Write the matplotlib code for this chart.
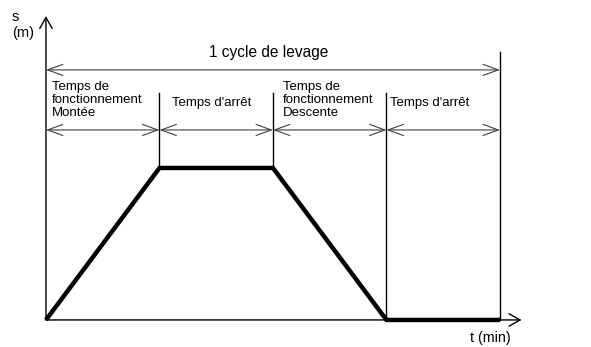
import matplotlib
matplotlib.use("Agg")
import matplotlib.pyplot as plt

plt.rcParams['font.family'] = ['Liberation Sans', 'DejaVu Sans']

# Data: breakpoints of the hoisting cycle (time units) and position
t_points = [0, 1, 2, 3, 4]
s_points = [0, 1, 1, 0, 0]
phase_labels = ["Temps de\nfonctionnement\nMontée", "Temps d'arrêt",
                "Temps de\nfonctionnement\nDescente", "Temps d'arrêt"]
cycle_label = "1 cycle de levage"
x_label = "t (min)"
y_label = "s\n(m)"

fig = plt.figure(figsize=(5.91, 3.47), dpi=100)
ax = fig.add_axes([0, 0, 1, 1])
ax.set_xlim(-0.405, 4.802)
ax.set_ylim(-0.178, 2.105)
ax.axis('off')

thin = '#404040'
axis_arrow = '->,head_length=0.8,head_width=0.45'
dim_arrow = '<->,head_length=1.1,head_width=0.4'
# axes with arrows
ax.annotate('', xy=(0, 2.0), xytext=(0, 0),
            arrowprops=dict(arrowstyle=axis_arrow, color='black', lw=1.0, shrinkA=0, shrinkB=0))
ax.annotate('', xy=(4.19, 0), xytext=(0, 0),
            arrowprops=dict(arrowstyle=axis_arrow, color='black', lw=1.0, shrinkA=0, shrinkB=0))

# vertical boundary lines
ax.plot([t_points[1]] * 2, [s_points[1], 1.49], color='black', lw=1.0)
ax.plot([t_points[2]] * 2, [s_points[2], 1.49], color='black', lw=1.0)
ax.plot([t_points[3]] * 2, [0, 1.49], color='black', lw=1.0)
ax.plot([t_points[4]] * 2, [0, 1.76], color='black', lw=1.0)

# cycle arrow
ax.annotate('', xy=(t_points[0], 1.645), xytext=(t_points[-1], 1.645),
            arrowprops=dict(arrowstyle=dim_arrow, color=thin, lw=0.8, shrinkA=0, shrinkB=0))
ax.text((t_points[0] + t_points[-1]) / 2 - 0.04, 1.76, cycle_label, ha='center', va='center', fontsize=11.2)

# phase arrows
for i in range(4):
    ax.annotate('', xy=(t_points[i], 1.25), xytext=(t_points[i + 1], 1.25),
                arrowprops=dict(arrowstyle=dim_arrow, color=thin, lw=0.8, shrinkA=0, shrinkB=0))

label_pos = [(0.055, 1.575, 'top'), (1.11, 1.428, 'center'), (2.09, 1.575, 'top'), (3.03, 1.428, 'center')]
for (x, y, va), lab in zip(label_pos, phase_labels):
    ax.text(x, y, lab, ha='left', va=va, fontsize=9.5, linespacing=1.12)

# curve
ax.plot(t_points, s_points, color='black', lw=3.2, solid_capstyle='butt', solid_joinstyle='miter')

ax.text(-0.3, 2.04, y_label, ha='left', va='top', fontsize=10.5, linespacing=1.15)
ax.text(3.735, -0.118, x_label, ha='left', va='center', fontsize=10.3)

fig.savefig('out.png', dpi=100)
